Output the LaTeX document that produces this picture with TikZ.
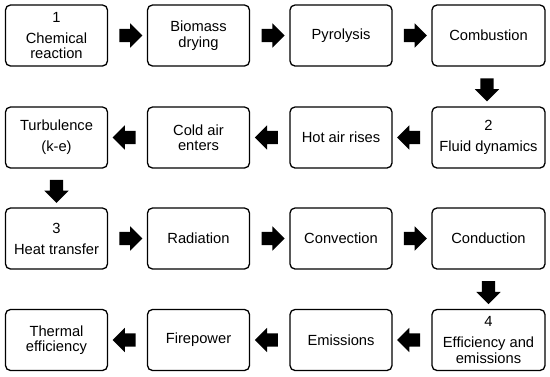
\documentclass[tikz,border=0pt]{standalone}
\usepackage{fontspec}
\setmainfont{Liberation Sans}
\usetikzlibrary{calc,shapes.arrows}
\tikzset{
	every picture/.style={font=\fontsize{14.7}{15.5}\selectfont,},
	lw/.style={line width=1.3pt,},
	%%%
	stepbox/.style={draw, lw, rounded corners=5pt, align=center, minimum width=\Wb, minimum height=\Hb, inner sep=2pt},
	widebox/.style={stepbox, minimum width=\Wl},
	%%%
	blockarrow/.style={single arrow, fill=black, draw=none, inner xsep=0, inner ysep=6.5pt, outer sep=0,
		minimum height=23pt, single arrow head extend=5.5pt},
	toright/.style={blockarrow, shape border rotate=0},
	toleft/.style={blockarrow, shape border rotate=180},
	todown/.style={blockarrow, shape border rotate=270, inner xsep=6.5pt, inner ysep=0},
}
\gdef\Wb{102pt}
\gdef\Wl{113pt}
\gdef\Hb{61pt}
\gdef\xA{56.5pt}
\gdef\xB{198.5pt}
\gdef\xC{341pt}
\gdef\xD{488.5pt}
\gdef\yA{-35.5pt}
\gdef\yB{-137.5pt}
\gdef\yC{-238.5pt}
\gdef\yD{-340pt}
\gdef\gap{5.5pt}

\begin{document}
\begin{tikzpicture}[]

	\useasboundingbox (0,0) rectangle (550pt,-376pt);

	%%% Row 1: chemical reaction

	\node[stepbox] (chem) at (\xA,\yA) {1\\[\gap]Chemical\\reaction};
	\node[stepbox] (dry) at (\xB,\yA) {Biomass\\drying};
	\node[stepbox] (pyro) at (\xC,\yA) {Pyrolysis};
	\node[widebox] (comb) at (\xD,\yA) {Combustion};

	%%% Row 2: fluid dynamics

	\node[widebox] (fluid) at (\xD,\yB) {2\\[\gap]Fluid dynamics};
	\node[stepbox] (hot) at (\xC,\yB) {Hot air rises};
	\node[stepbox] (cold) at (\xB,\yB) {Cold air\\enters};
	\node[stepbox] (turb) at (\xA,\yB) {Turbulence\\[\gap](k-e)};

	%%% Row 3: heat transfer

	\node[stepbox] (heat) at (\xA,\yC) {3\\[\gap]Heat transfer};
	\node[stepbox] (rad) at (\xB,\yC) {Radiation};
	\node[stepbox] (conv) at (\xC,\yC) {Convection};
	\node[widebox] (cond) at (\xD,\yC) {Conduction};

	%%% Row 4: efficiency and emissions

	\node[widebox] (eff) at (\xD,\yD) {4\\[\gap]Efficiency and\\emissions};
	\node[stepbox] (emis) at (\xC,\yD) {Emissions};
	\node[stepbox] (fire) at (\xB,\yD) {Firepower};
	\node[stepbox] (therm) at (\xA,\yD) {Thermal\\efficiency};

	%%% Block arrows

	\node[toright] (a1) at ($(chem.east)!0.5!(dry.west)$) {};
	\node[toright] (a2) at ($(dry.east)!0.5!(pyro.west)$) {};
	\node[toright] (a3) at ($(pyro.east)!0.5!(comb.west)$) {};
	\node[todown] (a4) at ($(comb.south)!0.5!(fluid.north)+(-1.5pt,0)$) {};
	\node[toleft] (a5) at ($(fluid.west)!0.5!(hot.east)$) {};
	\node[toleft] (a6) at ($(hot.west)!0.5!(cold.east)$) {};
	\node[toleft] (a7) at ($(cold.west)!0.5!(turb.east)$) {};
	\node[todown] (a8) at ($(turb.south)!0.5!(heat.north)$) {};
	\node[toright] (a9) at ($(heat.east)!0.5!(rad.west)$) {};
	\node[toright] (a10) at ($(rad.east)!0.5!(conv.west)$) {};
	\node[toright] (a11) at ($(conv.east)!0.5!(cond.west)$) {};
	\node[todown] (a12) at ($(cond.south)!0.5!(eff.north)$) {};
	\node[toleft] (a13) at ($(eff.west)!0.5!(emis.east)$) {};
	\node[toleft] (a14) at ($(emis.west)!0.5!(fire.east)$) {};
	\node[toleft] (a15) at ($(fire.west)!0.5!(therm.east)$) {};

\end{tikzpicture}
\end{document}
